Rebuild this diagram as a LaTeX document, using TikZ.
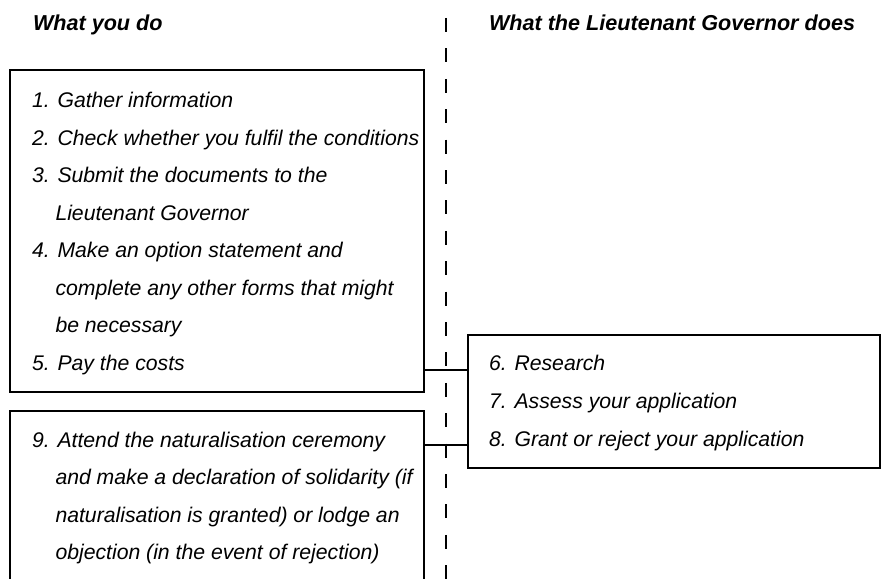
\documentclass[tikz,border=0pt]{standalone}
\usepackage{fontspec}
\setmainfont{Liberation Sans}
\begin{document}
\begin{tikzpicture}[x=1pt,y=-1pt,
  box/.style={draw=black,line width=2.8pt,rectangle,inner sep=0pt,outer sep=0pt},
  txt/.style={anchor=base west,inner sep=0pt,outer sep=0pt,font=\fontsize{21.2}{25}\selectfont\itshape},
  head/.style={anchor=base west,inner sep=0pt,outer sep=0pt,font=\fontsize{21.6}{25}\selectfont\bfseries\itshape},
  link/.style={draw=black,line width=2.5pt},
  divider/.style={draw=black,line width=1.3pt,dash pattern=on 14pt off 16.4pt}]
\useasboundingbox (0,0) rectangle (882,578);
% divider
\coordinate (dtop) at (446,18);
\coordinate (dbot) at (446,590);
\draw[divider] (dtop) -- (dbot);
% headings
\node[head] (h1) at (33,31) {What you do};
\node[head] (h2) at (489,31) {What the Lieutenant Governor does};
% boxes
\node[box,minimum width=414pt,minimum height=322pt] (b1) at (217,231) {};
\node[box,minimum width=414pt,minimum height=200pt] (b2) at (217,511) {};
\node[box,minimum width=412pt,minimum height=133pt] (b3) at (674,401.5) {};
% box 1 text
\node[txt] (t1) at (32,107.5) {1. Gather information};
\node[txt] (t2) at (32,145) {2. Check whether you fulfil the conditions};
\node[txt] (t3) at (32,182.5) {3. Submit the documents to the};
\node[txt] (t3b) at (55.5,220) {Lieutenant Governor};
\node[txt] (t4) at (32,257.5) {4. Make an option statement and};
\node[txt] (t4b) at (55.5,295) {complete any other forms that might};
\node[txt] (t4c) at (55.5,332.5) {be necessary};
\node[txt] (t5) at (32,370) {5. Pay the costs};
% box 2 text
\node[txt] (t9) at (32,447) {9. Attend the naturalisation ceremony};
\node[txt] (t9b) at (55.5,484.5) {and make a declaration of solidarity (if};
\node[txt] (t9c) at (55.5,522) {naturalisation is granted) or lodge an};
\node[txt] (t9d) at (55.5,559.5) {objection (in the event of rejection)};
% box 3 text
\node[txt] (t6) at (489,370) {6. Research};
\node[txt] (t7) at (489,408) {7. Assess your application};
\node[txt] (t8) at (489,446) {8. Grant or reject your application};
% connectors
\coordinate (c1) at (0,370);
\coordinate (c2) at (0,445);
\draw[link] (b1.east |- c1) -- (b3.west |- c1);
\draw[link] (b2.east |- c2) -- (b3.west |- c2);
\end{tikzpicture}
\end{document}
